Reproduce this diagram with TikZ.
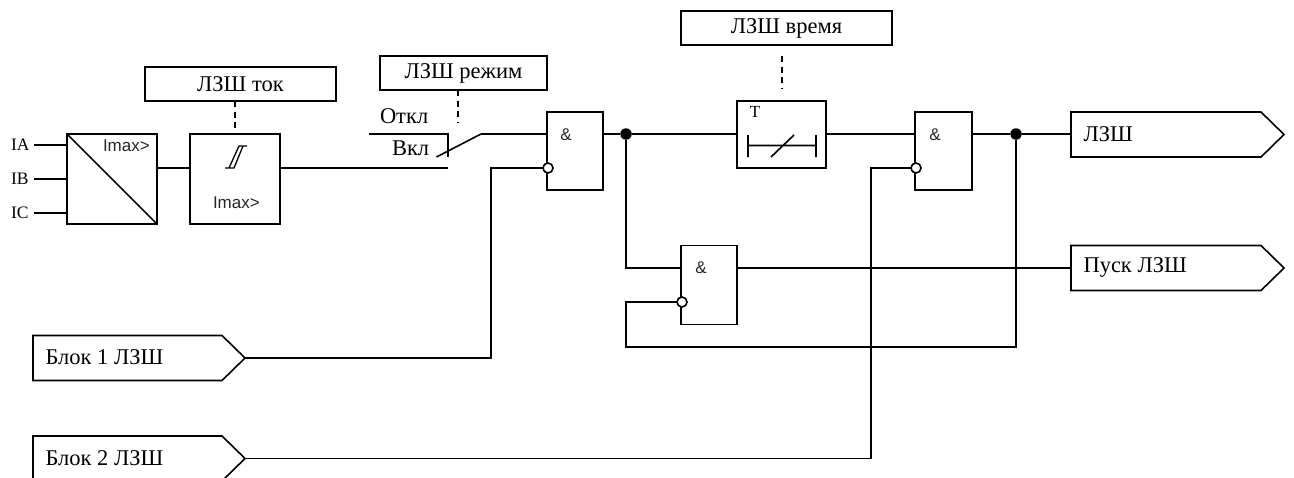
\documentclass[tikz,border=0pt]{standalone}
\usepackage{fontspec}
\setmainfont{Liberation Serif}
\setsansfont{Liberation Sans}
\tikzset{
  x=1pt,y=-1pt,
  wire/.style={line width=1.6pt,line join=miter},
  blk/.style={draw,line width=1.6pt,rectangle,inner sep=0pt,outer sep=0pt,fill=white},
  lbl/.style={inner sep=0pt,outer sep=0pt,font=\fontsize{22.5}{24}\selectfont},
  sml/.style={inner sep=0pt,outer sep=0pt,font=\fontsize{17}{19}\selectfont},
  ptxt/.style={inner sep=0pt,outer sep=0pt,font=\fontsize{17.5}{19}\selectfont},
  sans/.style={inner sep=0pt,outer sep=0pt,font=\sffamily\fontsize{17}{19}\selectfont,text=black!85},
  ctl/.style={line width=1.6pt,dash pattern=on 6pt off 4.5pt},
  bub/.style={circle,draw,line width=1.6pt,fill=white,minimum size=10pt,inner sep=0pt,outer sep=0pt},
  jct/.style={circle,fill=black,minimum size=11.5pt,inner sep=0pt,outer sep=0pt},
  sigtext/.style={inner sep=0pt,outer sep=0pt,anchor=west,font=\fontsize{22.5}{24}\selectfont},
}
% name, left x, top y, right x (tip), text
\newcommand{\sigbox}[5]{%
  \coordinate (#1) at (#4,#3+22.5);
  \draw[wire] (#2,#3) -- (#4-23,#3) -- (#1) -- (#4-23,#3+45) -- (#2,#3+45) -- cycle;
  \node[sigtext] (#1t) at (#2+12.5,#3+22) {#5};
}
\begin{document}
\begin{tikzpicture}
\useasboundingbox (0,0) rectangle (1294,477);
\clip (0,0) rectangle (1294,477);
\fill[white] (0,0) rectangle (1294,477);

% converter
\node[blk,minimum width=90pt,minimum height=90pt] (conv) at (112,179) {};
\draw[wire] (conv.north west) -- (conv.south east);
\node[sans,anchor=west] (convt) at (103,146) {Imax>};
\node[ptxt,anchor=west] (ia) at (11,145) {IA};
\node[ptxt,anchor=west] (ib) at (11,179) {IB};
\node[ptxt,anchor=west] (ic) at (11,213) {IC};
\draw[wire] (34,145) -- (conv.west |- ia.east);
\draw[wire] (34,179) -- (conv.west |- ib.east);
\draw[wire] (34,213) -- (conv.west |- ic.east);

% comparator
\node[blk,minimum width=90pt,minimum height=90pt] (cmp) at (235,179) {};
\node[sans,anchor=west] (cmpt) at (213,203) {Imax>};
\draw[line width=1.3pt] (225,168) -- (234,168) -- (243,146) -- (247,146) -- (239,146) -- (229,168);
\draw[wire] (conv.east |- 0,168) -- (cmp.west |- 0,168);

% settings
\node[blk,lbl,minimum width=191pt,minimum height=34pt] (stok) at (240.5,84) {ЛЗШ ток};
\draw[ctl] (stok.south -| cmp.north) -- (cmp.north);
\node[blk,lbl,minimum width=167pt,minimum height=34pt] (srez) at (463.5,73) {ЛЗШ режим};
\coordinate (rezend) at (458,122);
\draw[ctl] (srez.south -| rezend) -- (rezend);
\node[blk,lbl,minimum width=211pt,minimum height=34pt] (svr) at (786.5,28) {ЛЗШ время};
\coordinate (vrtop) at (782,56);
\coordinate (vrend) at (782,88);
\draw[ctl] (vrtop) -- (vrend);

% switch
\node[lbl,anchor=west] (otkl) at (380,116) {Откл};
\node[lbl,anchor=west] (vkl) at (392,148) {Вкл};
\coordinate (swa) at (369,134);
\coordinate (swb) at (448,134);
\coordinate (swc) at (448,157);
\coordinate (swd) at (448,168);
\coordinate (bla) at (436.5,157);
\coordinate (blb) at (481,134);
\draw[wire] (swa) -- (swb) -- (swc);
\draw[wire] (cmp.east |- swd) -- (swd);
\draw[wire] (bla) -- (blb);

% AND 1
\node[blk,minimum width=56pt,minimum height=78pt] (and1) at (575,151) {};
\node[sans] (and1t) at (566,135) {\&};
\draw[wire] (blb) -- (and1.west |- blb);
\node[bub] (bub1) at (548,168) {};

% timer
\node[blk,minimum width=89pt,minimum height=67pt] (tmr) at (781.5,134.5) {};
\node[sml] (tmrt) at (755,112) {T};
\draw[wire] (748,135) -- (748,157) (816,135) -- (816,157) (748,145.5) -- (816,145.5) (771,157) -- (794,135);

% AND 2
\node[blk,minimum width=57pt,minimum height=78pt] (and2) at (943.5,151) {};
\node[sans] (and2t) at (935,135) {\&};
\node[bub] (bub2) at (916,168) {};

% AND 3
\node[blk,minimum width=56pt,minimum height=79pt] (and3) at (709,285) {};
\node[sans] (and3t) at (701,268) {\&};
\node[bub] (bub3) at (682,302) {};

% outputs / inputs
\sigbox{out1}{1071}{112}{1284}{ЛЗШ}
\sigbox{out2}{1071}{245.5}{1284}{Пуск ЛЗШ}
\sigbox{blk1}{33}{335.5}{245}{Блок 1 ЛЗШ}
\sigbox{blk2}{33}{436}{245}{Блок 2 ЛЗШ}

% junctions
\node[jct] (j1) at (626,134) {};
\node[jct] (j2) at (1016,134) {};

% connectors
\draw[wire] (and1.east |- j1) -- (j1) -- (tmr.west |- j1);
\draw[wire] (tmr.east |- j1) -- (and2.west |- j1);
\draw[wire] (and2.east |- j2) -- (j2) -- (1071,134);
\draw[wire] (j1) |- (and3.west |- 0,268);
\draw[wire] (and3.east |- 0,268) -- (1071,268);
\draw[wire] (j2) |- (626,347) |- (bub3.west);
\draw[wire] (blk1) -| (491,168) -- (bub1.west);
\draw[wire] (blk2) -| (871,168) -- (bub2.west);
\end{tikzpicture}
\end{document}
